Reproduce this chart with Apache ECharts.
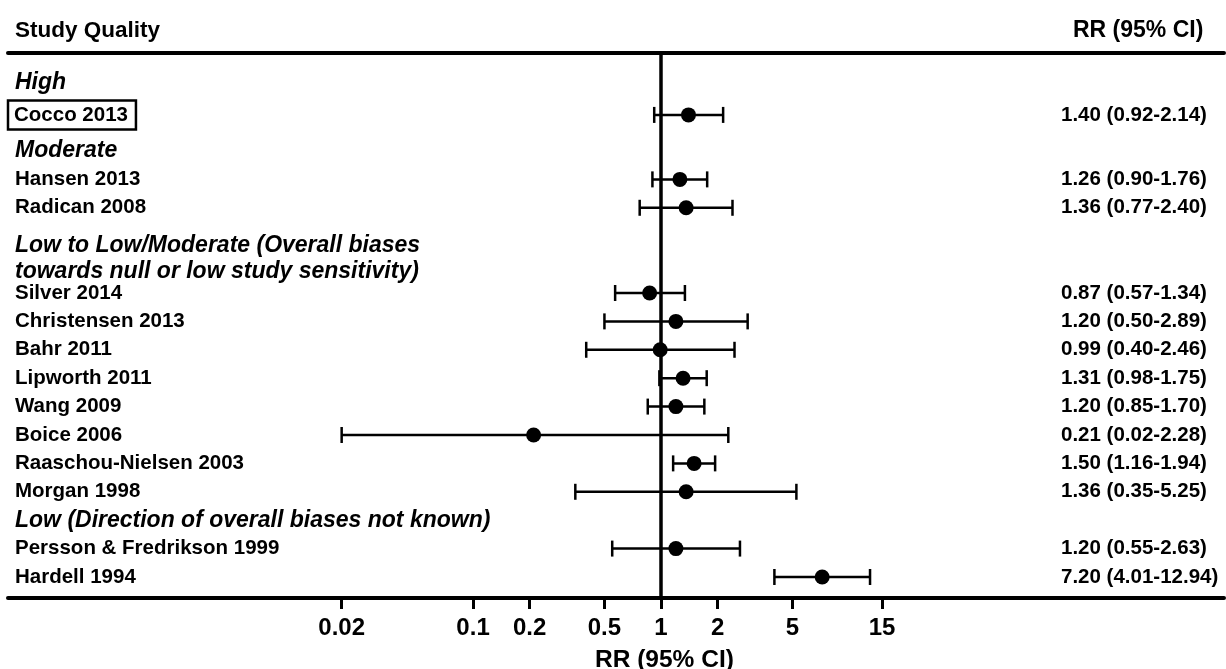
<!DOCTYPE html>
<html>
<head>
<meta charset="utf-8">
<script src="https://cdn.jsdelivr.net/npm/echarts@6/dist/echarts.min.js"></script>
<style>
  html, body { margin: 0; padding: 0; background: #ffffff; }
  #chart { width: 1226px; height: 669px; }
</style>
</head>
<body>
<div id="chart"></div>
<script>
// ---- data ----
const groups = [
  'High',
  'Moderate',
  'Low to Low/Moderate (Overall biases\ntowards null or low study sensitivity)',
  'Low (Direction of overall biases not known)'
];
const studies = [
  'Cocco 2013',
  'Hansen 2013', 'Radican 2008',
  'Silver 2014', 'Christensen 2013', 'Bahr 2011', 'Lipworth 2011', 'Wang 2009',
  'Boice 2006', 'Raaschou-Nielsen 2003', 'Morgan 1998',
  'Persson & Fredrikson 1999', 'Hardell 1994'
];
const rr    = [1.40, 1.26, 1.36, 0.87, 1.20, 0.99, 1.31, 1.20, 0.21, 1.50, 1.36, 1.20, 7.20];
const lower = [0.92, 0.90, 0.77, 0.57, 0.50, 0.40, 0.98, 0.85, 0.02, 1.16, 0.35, 0.55, 4.01];
const upper = [2.14, 1.76, 2.40, 1.34, 2.89, 2.46, 1.75, 1.70, 2.28, 1.94, 5.25, 2.63, 12.94];
const boxedStudies = ['Cocco 2013'];
const tickValues = [0.02, 0.1, 0.2, 0.5, 1, 2, 5, 15];
const tickLabels = ['0.02', '0.1', '0.2', '0.5', '1', '2', '5', '15'];
const nullValue = 1;

// ---- layout: row placement (row units from the top) ----
const groupRow = [-0.39, 2, 5.8, 15];
const studyRow = [0.73, 3, 4, 7, 8, 9, 10, 11, 12, 13, 14, 16, 17];
const ROW_MIN = -1.45, ROW_MAX = 17.74;
const LOG_MIN = -3.474, LOG_MAX = 2.995;
const FONT = '"Liberation Sans", Arial, Helvetica, sans-serif';

const log10 = Math.log10;
const fmt = v => v.toFixed(2);
const rrText = studies.map((s, i) => `${fmt(rr[i])} (${fmt(lower[i])}-${fmt(upper[i])})`);

// left column entries keyed by row
const leftEntries = [];
groups.forEach((g, i) => leftEntries.push({ row: groupRow[i], kind: 'g', text: g }));
studies.forEach((s, i) => leftEntries.push({ row: studyRow[i], kind: boxedStudies.includes(s) ? 'b' : 's', text: s }));
leftEntries.sort((a, b) => a.row - b.row);

function nearest(list, v, key) {
  let best = list[0], d = Infinity;
  list.forEach(e => { const dd = Math.abs(key(e) - v); if (dd < d) { d = dd; best = e; } });
  return best;
}
function leftLabel(v) {
  const e = nearest(leftEntries, v, x => x.row);
  return e.text.split('\n').map(line => `{${e.kind}|${line}}`).join('\n');
}
function rightLabel(v) {
  let bi = 0, d = Infinity;
  studyRow.forEach((r, i) => { const dd = Math.abs(r - v); if (dd < d) { d = dd; bi = i; } });
  return rrText[bi];
}
function tickLabel(v) {
  let bi = 0, d = Infinity;
  tickValues.forEach((t, i) => { const dd = Math.abs(log10(t) - v); if (dd < d) { d = dd; bi = i; } });
  return tickLabels[bi];
}

const chart = echarts.init(document.getElementById('chart'), null, { renderer: 'canvas' });

const titleStyle = (size) => ({ fontFamily: FONT, fontSize: size, fontWeight: 'bold', color: '#000' });

chart.setOption({
  animation: false,
  backgroundColor: '#ffffff',
  title: [
    { text: 'Study Quality', left: 15, top: 19, padding: 0, textStyle: titleStyle(22.5) },
    { text: 'RR (95% CI)', left: 1073, top: 19, padding: 0, textStyle: titleStyle(23) },
    { text: 'RR (95% CI)', left: 595, top: 648, padding: 0, textStyle: titleStyle(24.5) }
  ],
  grid: { left: 8, right: 2, top: 53, bottom: 71, containLabel: false },
  xAxis: [
    {
      type: 'value', position: 'bottom', min: LOG_MIN, max: LOG_MAX,
      axisLine: { show: true, onZero: false, lineStyle: { color: '#000', width: 4 } },
      axisTick: { show: true, customValues: tickValues.map(log10), length: 11, lineStyle: { color: '#000', width: 3 } },
      axisLabel: {
        customValues: tickValues.map(log10), formatter: tickLabel, margin: 18,
        fontFamily: FONT, fontSize: 24, fontWeight: 'bold', color: '#000'
      },
      splitLine: { show: false }
    },
    {
      type: 'value', position: 'top', min: LOG_MIN, max: LOG_MAX,
      axisLine: { show: true, onZero: false, lineStyle: { color: '#000', width: 4 } },
      axisTick: { show: false }, axisLabel: { show: false }, splitLine: { show: false }
    }
  ],
  yAxis: [
    {
      type: 'value', position: 'left', inverse: true, min: ROW_MIN, max: ROW_MAX,
      axisLine: { show: false, onZero: false }, axisTick: { show: false }, splitLine: { show: false },
      axisLabel: {
        inside: true, margin: 0, align: 'left', verticalAlign: 'middle',
        customValues: leftEntries.map(e => e.row), formatter: leftLabel,
        color: '#000', fontFamily: FONT,
        rich: {
          g: { fontFamily: FONT, fontSize: 23, fontWeight: 'bold', fontStyle: 'italic', color: '#000', lineHeight: 26, padding: [0, 0, 0, 7] },
          s: { fontFamily: FONT, fontSize: 20.5, fontWeight: 'bold', color: '#000', padding: [0, 0, 0, 7] },
          b: { fontFamily: FONT, fontSize: 20.5, fontWeight: 'bold', color: '#000', borderColor: '#000', borderWidth: 2.5, padding: [4, 8, 4, 6] }
        }
      }
    },
    {
      type: 'value', position: 'right', inverse: true, min: ROW_MIN, max: ROW_MAX,
      axisLine: { show: false, onZero: false }, axisTick: { show: false }, splitLine: { show: false },
      axisLabel: {
        inside: true, margin: 163, align: 'left', verticalAlign: 'middle',
        customValues: studyRow, formatter: rightLabel,
        fontFamily: FONT, fontSize: 20.5, fontWeight: 'bold', color: '#000'
      }
    }
  ],
  series: [
    {
      name: 'ci', type: 'custom', xAxisIndex: 0, yAxisIndex: 0, z: 2,
      data: studies.map((s, i) => [log10(lower[i]), log10(upper[i]), studyRow[i]]),
      encode: { x: [0, 1], y: 2 },
      renderItem: (params, api) => {
        const a = api.coord([api.value(0), api.value(2)]);
        const b = api.coord([api.value(1), api.value(2)]);
        const h = 8;
        const st = { stroke: '#000', lineWidth: 2.5 };
        return {
          type: 'group',
          children: [
            { type: 'line', shape: { x1: a[0], y1: a[1], x2: b[0], y2: b[1] }, style: st },
            { type: 'line', shape: { x1: a[0], y1: a[1] - h, x2: a[0], y2: a[1] + h }, style: st },
            { type: 'line', shape: { x1: b[0], y1: b[1] - h, x2: b[0], y2: b[1] + h }, style: st }
          ]
        };
      },
      markLine: {
        silent: true, symbol: 'none', label: { show: false },
        lineStyle: { color: '#000', width: 3.5, type: 'solid' },
        data: [{ xAxis: log10(nullValue) }]
      }
    },
    {
      name: 'rr', type: 'scatter', xAxisIndex: 0, yAxisIndex: 0, z: 3,
      symbol: 'circle', symbolSize: 15,
      itemStyle: { color: '#000', opacity: 1 },
      data: studies.map((s, i) => [log10(rr[i]), studyRow[i]])
    }
  ]
});
</script>
</body>
</html>
